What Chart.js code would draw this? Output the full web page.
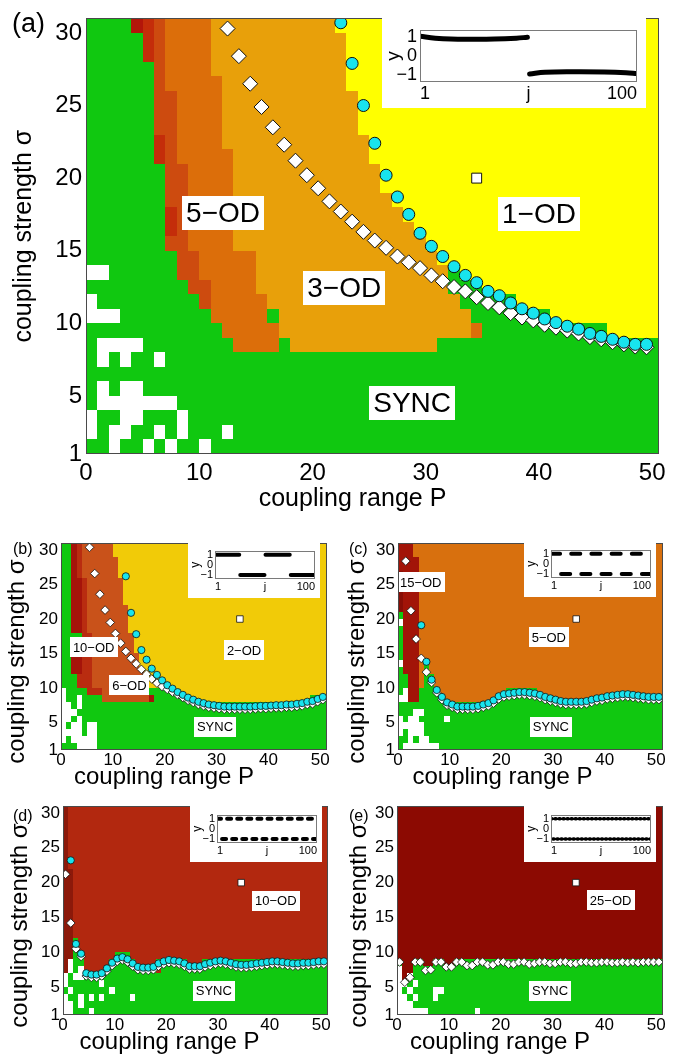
<!DOCTYPE html>
<html>
<head>
<meta charset="utf-8">
<title>Oscillation death phase diagrams</title>
<script src="https://cdn.jsdelivr.net/npm/chart.js@4.4.1/dist/chart.umd.min.js"></script>
<style>
  body { margin: 0; background: #fff; }
  #page { position: relative; width: 685px; height: 1055px; overflow: hidden; font-family: "Liberation Sans", Arial, sans-serif; }
  canvas { position: absolute; }
  canvas.inset { background: #fff; }
  .tag { position: absolute; line-height: 1; color: #000; }
</style>
</head>
<body>
<div id="page">
  <canvas id="chartA" width="685" height="522" style="left:0px;top:0px"></canvas>
  <canvas id="chartB" width="340" height="260" style="left:0px;top:530px"></canvas>
  <canvas id="chartC" width="345" height="260" style="left:340px;top:530px"></canvas>
  <canvas id="chartD" width="340" height="265" style="left:0px;top:790px"></canvas>
  <canvas id="chartE" width="345" height="265" style="left:340px;top:790px"></canvas>

  <canvas id="insetA" class="inset" width="264" height="92" style="left:382px;top:16px"></canvas>
  <canvas id="insetB" class="inset" width="132" height="56" style="left:188px;top:542px"></canvas>
  <canvas id="insetC" class="inset" width="132" height="56" style="left:524px;top:541px"></canvas>
  <canvas id="insetD" class="inset" width="132" height="56" style="left:190px;top:806px"></canvas>
  <canvas id="insetE" class="inset" width="132" height="56" style="left:524px;top:806px"></canvas>

  <div class="tag" style="left:12px;top:10px;font-size:27px">(a)</div>
  <div class="tag" style="left:13px;top:541px;font-size:16px">(b)</div>
  <div class="tag" style="left:349px;top:541px;font-size:16px">(c)</div>
  <div class="tag" style="left:13px;top:808px;font-size:16px">(d)</div>
  <div class="tag" style="left:349px;top:808px;font-size:16px">(e)</div>
</div>

<script>
// ---- axis ticks ----
const pTicks = [0, 10, 20, 30, 40, 50];
const sigmaTicks = [1, 5, 10, 15, 20, 25, 30];

// white square marker (same point in every panel)
const squareP = [34];
const squareSigma = [20];

// ---- phase grids: one run-length string per sigma row, top row (sigma 30) first, columns P = 0..50 ----
const gridA = [
  'g4 R1 r1 q1 o4 a11 y29',
  'g5 r1 q1 o4 a12 y28',
  'g5 r1 q1 o4 a12 y28',
  'g6 q1 o4 a12 y28',
  'g6 q1 o5 a11 y28',
  'g6 q2 o4 a12 y27',
  'g6 q2 o4 a12 y27',
  'g6 q2 o4 a12 y27',
  'g6 r1 q1 o4 a13 y26',
  'g6 r1 q1 o5 a12 y26',
  'g7 q2 o4 a13 y25',
  'g7 q2 o4 a13 y25',
  'g7 q2 o4 a14 y24',
  'g7 r1 q1 o4 a15 y23',
  'g7 r1 q1 o4 a16 y22',
  'g7 q2 o4 a17 y21',
  'g8 q2 o5 a16 y20',
  'w2 g6 q2 o5 a17 g1 y18',
  'g9 q2 o4 a17 g3 y16',
  'w1 g9 q1 o5 a17 g5 y13',
  'w3 g8 o5 g1 a17 g7 y10',
  'g12 o5 a17 o1 g11 y5',
  'g1 w4 g8 o4 g1 a13 g20',
  'g1 w1 g1 w1 g2 w1 g44',
  'g51',
  'g1 w1 g1 w2 g46',
  'g1 w7 g43',
  'w1 g2 w2 g3 w1 g42',
  'w1 g1 w2 g2 w1 g1 w1 g3 w1 g38',
  'g2 w1 g2 w1 g1 w1 g2 w1 g40'
];

const gridB = [
  'g2 B1 b1 s6 Y41',
  'g2 B1 b1 s6 Y41',
  'g2 B1 b1 s7 Y40',
  'g2 B1 b1 s7 Y40',
  'g2 B1 b1 s7 Y40',
  'g2 B2 b1 s7 Y39',
  'g2 B2 b1 s7 Y39',
  'g2 B2 b1 s7 Y39',
  'g2 B2 b1 s7 Y39',
  'g2 B2 b1 s8 Y38',
  'g2 B2 b1 s8 Y38',
  'g2 B2 b1 s8 Y38',
  'g2 B2 b1 s8 Y38',
  'g4 b2 s8 Y37',
  'g4 b2 s8 Y37',
  'g2 B2 b2 s8 Y37',
  'g2 B2 b2 s9 Y36',
  'g2 B2 b2 s9 Y36',
  'g2 B2 b2 s10 Y35',
  'g3 b3 s10 Y35',
  'g3 b3 s11 Y34',
  'w1 g4 b3 s9 g5 Y29',
  'w1 g2 w1 g4 s9 B1 g7 Y23 g3',
  'w2 g1 w1 g47',
  'w3 g48',
  'w2 g1 w1 g47',
  'w1 g1 w2 g1 w2 g44',
  'w4 g1 w2 g44',
  'w1 g1 w5 g44',
  'g3 w4 g44'
];

const gridC = [
  'M3 O48',
  'M3 O48',
  'M4 O47',
  'M4 O47',
  'D1 M3 O47',
  'D1 M3 O47',
  'D1 M3 O47',
  'D1 M3 O47',
  'D1 M3 O47',
  'D1 M3 O47',
  'g1 M3 O47',
  'w1 M3 O47',
  'g1 M3 O47',
  'g1 M3 O47',
  'g1 M3 O47',
  'g1 M3 O47',
  'g1 M3 O47',
  'w1 M3 O1 g1 O45',
  'g1 M3 O1 g1 O45',
  'g2 M2 O1 g2 O44',
  'g2 M2 O1 g2 O44',
  'g1 w1 M2 g4 O13 g6 O24',
  'w2 M2 g5 O10 g10 O9 g13',
  'g51',
  'g3 w2 g46',
  'w1 g1 w2 g5 w1 g41',
  'w5 g46',
  'w1 g1 w3 g46',
  'g2 w1 g1 w2 g45',
  'g1 w7 g43'
];

const gridD = [
  'K1 E50',
  'K1 E50',
  'K1 E50',
  'K1 E50',
  'K1 E50',
  'K1 E50',
  'K1 E50',
  'K1 E50',
  'K1 E50',
  'K2 E49',
  'K2 E49',
  'K2 E49',
  'K2 E49',
  'K2 E49',
  'K2 E49',
  'K2 E49',
  'K2 E49',
  'K2 E49',
  'K2 E49',
  'K2 g1 E48',
  'K2 g1 E48',
  'K2 g2 E6 g3 E38',
  'K1 w1 g2 E5 g5 E4 g6 E3 g24',
  'K1 w1 g1 w1 E4 g10 E1 g32',
  'w1 g1 w2 g47',
  'w1 g6 w1 g43',
  'g1 w1 g7 w1 g41',
  'w1 g2 w1 g1 w1 g1 w1 g5 w1 g37',
  'w2 g1 w1 g47',
  'w2 g3 w1 g45'
];

const gridE = [
  'X51', 'X51', 'X51', 'X51', 'X51', 'X51', 'X51', 'X51', 'X51', 'X51', 'X51',
  'X51', 'X51', 'X51', 'X51', 'X51', 'X51', 'X51', 'X51', 'X51', 'X51', 'X51',
  'g1 X2 g2 X2 g2 X2 g40',
  'w1 X2 g48',
  'w1 X1 w1 g48',
  'w2 g1 w1 g47',
  'w1 g1 w1 g4 w2 g42',
  'w2 g1 w1 g3 w1 g43',
  'w3 g48',
  'w6 g9 w1 g35'
];

// ---- markers: first column P, then sigma for each following column ----
const circlesA_start = 22;
const circlesA = [30.7, 27.9, 25.0, 22.4, 20.2, 18.7, 17.5, 16.2, 15.3, 14.6, 13.9, 13.3, 12.8, 12.2,
  11.9, 11.4, 11.0, 10.7, 10.3, 10.05, 9.8, 9.6, 9.3, 9.1, 8.9, 8.7, 8.55, 8.55];
const diamondsA_start = 12;
const diamondsA = [30.3, 28.4, 26.5, 24.9, 23.5, 22.3, 21.2, 20.2, 19.3, 18.4, 17.7, 17.0, 16.3, 15.7,
  15.2, 14.6, 14.2, 13.8, 13.3, 12.9, 12.5, 12.2, 11.8, 11.4, 11.1, 10.7, 10.4, 10.2, 9.9, 9.7, 9.5,
  9.3, 9.05, 8.9, 8.7, 8.55, 8.4, 8.35];

const circlesB_start = 12;
const circlesB = [26.2, 20.9, 17.8, 15.5, 14.1, 12.8, 11.9, 11.1, 10.4, 9.9, 9.4, 9.0, 8.6, 8.3, 8.0,
  7.8, 7.6, 7.5, 7.4, 7.3, 7.3, 7.3, 7.3, 7.3, 7.3, 7.35, 7.4, 7.4, 7.45, 7.5, 7.5, 7.6, 7.6, 7.7,
  7.8, 8.0, 8.1, 8.4, 8.7];
const diamondsB_start = 5;
const diamondsB = [30.4, 26.6, 23.6, 21.3, 19.5, 17.9, 16.5, 15.3, 14.3, 13.5, 12.7, 12.0, 11.3, 10.7,
  10.2, 9.8, 9.4, 9.0, 8.6, 8.2, 7.9, 7.6, 7.4, 7.2, 7.1, 7.0, 6.9, 6.9, 6.9, 6.9, 6.9, 6.9, 6.95,
  7.0, 7.0, 7.05, 7.1, 7.1, 7.2, 7.2, 7.3, 7.4, 7.6, 7.7, 8.0, 8.3];

const circlesC_start = 4;
const circlesC = [19.1, 13.8, 11.2, 9.7, 8.7, 7.9, 7.6, 7.3, 7.3, 7.3, 7.3, 7.4, 7.6, 7.8, 8.2, 8.8,
  9.1, 9.2, 9.3, 9.4, 9.4, 9.3, 9.2, 9.0, 8.7, 8.5, 8.3, 8.1, 8.0, 8.0, 8.0, 8.0, 8.1, 8.3, 8.5, 8.6,
  8.8, 8.9, 9.0, 9.1, 9.1, 9.0, 8.9, 8.8, 8.7, 8.7, 8.7];
const diamondsC_start = 1;
const diamondsC = [28.4, 21.2, 17.1, 14.3, 12.3, 10.8, 9.3, 8.3, 7.5, 7.2, 6.9, 6.9, 6.9, 6.9, 7.0,
  7.2, 7.4, 7.8, 8.4, 8.7, 8.8, 8.9, 9.0, 9.0, 8.9, 8.8, 8.6, 8.3, 8.1, 7.9, 7.7, 7.6, 7.6, 7.6, 7.6,
  7.7, 7.9, 8.1, 8.2, 8.4, 8.5, 8.6, 8.7, 8.7, 8.6, 8.5, 8.4, 8.3, 8.3, 8.3];

const circlesD_start = 1;
const circlesD = [23.2, 11.2, 9.8, 7.0, 6.8, 6.8, 7.0, 7.7, 8.5, 9.1, 9.3, 9.0, 8.4, 7.9, 7.8, 7.8,
  7.9, 8.4, 8.7, 8.9, 8.8, 8.7, 8.4, 8.0, 8.0, 8.0, 8.3, 8.5, 8.7, 8.8, 8.7, 8.5, 8.3, 8.2, 8.2, 8.3,
  8.4, 8.5, 8.6, 8.7, 8.7, 8.6, 8.5, 8.4, 8.4, 8.5, 8.5, 8.6, 8.7, 8.7];
const diamondsD_start = 0;
const diamondsD = [21.2, 14.2, 10.5, 9.4, 6.6, 6.4, 6.4, 6.6, 7.3, 8.1, 8.7, 8.9, 8.6, 8.0, 7.5, 7.4,
  7.4, 7.5, 8.0, 8.3, 8.5, 8.4, 8.3, 8.0, 7.6, 7.6, 7.6, 7.9, 8.1, 8.3, 8.4, 8.3, 8.1, 7.9, 7.8, 7.8,
  7.9, 8.0, 8.1, 8.2, 8.3, 8.3, 8.2, 8.1, 8.0, 8.0, 8.1, 8.1, 8.2, 8.3, 8.3];

const diamondsE_start = 0;
const diamondsE = [8.6, 5.7, 6.4, 8.6, 8.6, 7.4, 7.5, 8.6, 8.6, 7.9, 7.9, 8.6, 8.6, 8.1, 8.1, 8.6,
  8.6, 8.2, 8.2, 8.6, 8.6, 8.3, 8.3, 8.6, 8.6, 8.3, 8.4, 8.6, 8.6, 8.4, 8.4, 8.6, 8.6, 8.4, 8.4, 8.6,
  8.6, 8.5, 8.5, 8.6, 8.6, 8.5, 8.5, 8.6, 8.5, 8.6, 8.5, 8.6, 8.6, 8.6, 8.6];

// ---- region labels ----
const labelsA = ['5\u2212OD', '3\u2212OD', '1\u2212OD', 'SYNC'];
const labelsA_P = [12.1, 22.8, 40.0, 28.8];
const labelsA_S = [17.6, 12.4, 17.5, 4.5];
const labelsB = ['10\u2212OD', '6\u2212OD', '2\u2212OD', 'SYNC'];
const labelsB_P = [6.3, 13.2, 35.3, 29.7];
const labelsB_S = [15.9, 10.4, 15.5, 4.4];
const labelsC = ['15\u2212OD', '5\u2212OD', 'SYNC'];
const labelsC_P = [4.4, 29.2, 29.6];
const labelsC_S = [25.3, 17.4, 4.4];
const labelsD = ['10\u2212OD', 'SYNC'];
const labelsD_P = [41.2, 29.2];
const labelsD_S = [17.4, 4.5];
const labelsE = ['25\u2212OD', 'SYNC'];
const labelsE_P = [41.2, 29.5];
const labelsE_S = [17.5, 4.5];

// ---- insets: y_j against j ----
const insetJTicks = [1, 50.5, 100];
const insetJLabels = ['1', 'j', '100'];
const insetYTicks = [-1, 0, 1];
const insetYLabels = ['\u22121', '0', '1'];
const insetA_upperJ = [1, 8, 15, 25, 35, 45, 50];
const insetA_upperY = [1.05, 0.95, 0.9, 0.89, 0.9, 0.95, 1.0];
const insetA_lowerJ = [51, 58, 70, 85, 95, 100];
const insetA_lowerY = [-0.97, -0.88, -0.85, -0.86, -0.9, -0.95];
// cluster value of each consecutive equal group of oscillators
const insetB = [1, -1, 1, -1];
const insetC = [1, -1, 1, -1, 1, -1, 1, -1, 1, -1];
const insetD = [1, -1, 1, -1, 1, -1, 1, -1, 1, -1, 1, -1, 1, -1, 1, -1, 1, -1, 1, -1];
const insetE = [1, -1, 1, -1, 1, -1, 1, -1, 1, -1, 1, -1, 1, -1, 1, -1, 1, -1, 1, -1, 1, -1, 1, -1, 1,
  -1, 1, -1, 1, -1, 1, -1, 1, -1, 1, -1, 1, -1, 1, -1, 1, -1, 1, -1, 1, -1, 1, -1, 1, -1];

// ---- colours ----
const cellColors = {
  g: '#10c810', w: '#ffffff',
  R: '#b3160a', r: '#c42d0a', q: '#cd4b0f', o: '#dc6e0a', a: '#e8a00a', y: '#ffff00',
  B: '#a5140a', b: '#b92c10', s: '#c9521a', Y: '#f1cb08',
  D: '#880e06', M: '#a21408', O: '#d8700e',
  K: '#8c190a', E: '#b2280f',
  X: '#8c0a02'
};
const circleFill = '#18e4ee';
const fontFamily = '"Liberation Sans", Arial, Helvetica, sans-serif';

Chart.defaults.font.family = fontFamily;
Chart.defaults.color = '#000';

function expandRow(spec) {
  const cells = [];
  spec.trim().split(/\s+/).forEach(tok => {
    const n = parseInt(tok.slice(1), 10);
    for (let k = 0; k < n; k++) cells.push(tok[0]);
  });
  return cells;
}

// markers sit in the middle of their P column
function toPoints(start, sigmas) {
  return sigmas.map((s, i) => ({ x: start + i + 0.5, y: s }));
}

function groupSegments(groups) {
  const size = 100 / groups.length;
  const pts = [];
  groups.forEach((v, g) => {
    const j0 = g * size + 1, j1 = (g + 1) * size;
    pts.push({ x: j0, y: v }, { x: j1, y: v }, { x: j1, y: null });
  });
  return pts;
}

// paint the phase cells under the markers
const heatmapPlugin = {
  id: 'heatmap',
  beforeDatasetsDraw(chart, args, opts) {
    const { ctx, chartArea: area, scales: { x, y } } = chart;
    const rows = opts.rows;
    ctx.save();
    ctx.beginPath();
    ctx.rect(area.left, area.top, area.right - area.left, area.bottom - area.top);
    ctx.clip();
    rows.forEach((spec, i) => {
      const sigma = rows.length - i;
      const y0 = Math.round(y.getPixelForValue(sigma + 1));
      const y1 = Math.round(y.getPixelForValue(sigma));
      const cells = expandRow(spec);
      cells.forEach((code, p) => {
        const x0 = Math.round(x.getPixelForValue(p));
        const x1 = p === cells.length - 1 ? Math.ceil(area.right) : Math.round(x.getPixelForValue(p + 1));
        ctx.fillStyle = cellColors[code];
        ctx.fillRect(x0, y0, x1 - x0, y1 - y0);
      });
    });
    ctx.restore();
  }
};

// white boxes with the state names
const labelPlugin = {
  id: 'regionLabels',
  afterDatasetsDraw(chart, args, opts) {
    const { ctx, scales: { x, y } } = chart;
    ctx.save();
    ctx.font = opts.size + 'px ' + fontFamily;
    ctx.textAlign = 'center';
    ctx.textBaseline = 'middle';
    opts.names.forEach((t, i) => {
      const cx = x.getPixelForValue(opts.p[i]);
      const cy = y.getPixelForValue(opts.s[i]);
      const w = ctx.measureText(t).width + 2 * opts.padX;
      const h = opts.size + 2 * opts.padY;
      ctx.fillStyle = '#fff';
      ctx.fillRect(Math.round(cx - w / 2), Math.round(cy - h / 2), Math.round(w), Math.round(h));
      ctx.fillStyle = '#000';
      ctx.fillText(t, cx, cy + 1);
    });
    ctx.restore();
  }
};

const framePlugin = {
  id: 'frame',
  afterDraw(chart, args, opts) {
    const { ctx, chartArea: a } = chart;
    ctx.save();
    ctx.strokeStyle = opts.color || '#444';
    ctx.lineWidth = 1;
    ctx.strokeRect(Math.round(a.left) + 0.5, Math.round(a.top) + 0.5,
      Math.round(a.right - a.left) - 1, Math.round(a.bottom - a.top) - 1);
    ctx.restore();
  }
};

// axis titles, placed like the original (not exactly centred on the axes)
const axisTitlePlugin = {
  id: 'axisTitles',
  afterDraw(chart, args, o) {
    const { ctx, chartArea: a } = chart;
    ctx.save();
    ctx.fillStyle = '#000';
    ctx.textAlign = 'center';
    ctx.textBaseline = 'alphabetic';
    ctx.font = o.xSize + 'px ' + fontFamily;
    ctx.fillText('coupling range P', (a.left + a.right) / 2 + o.xShift, o.xBaseline);
    ctx.translate(o.yCenterX, (a.top + a.bottom) / 2 + o.yShift);
    ctx.rotate(-Math.PI / 2);
    ctx.textBaseline = 'middle';
    ctx.font = o.ySize + 'px ' + fontFamily;
    ctx.fillText('coupling strength \u03c3', 0, 0);
    ctx.restore();
  }
};

function makePanel(id, d, f) {
  const datasets = [];
  if (d.circles) {
    datasets.push({
      data: toPoints(d.circles[0], d.circles[1]), pointStyle: 'circle', pointRadius: f.circleR,
      backgroundColor: circleFill, borderColor: '#111', borderWidth: f.edge
    });
  }
  datasets.push({
    data: toPoints(d.diamonds[0], d.diamonds[1]), pointStyle: 'rectRot', pointRadius: f.diamondR,
    backgroundColor: '#fff', borderColor: '#111', borderWidth: f.edge
  });
  datasets.push({
    data: toPoints(squareP[0], squareSigma), pointStyle: 'rect', pointRadius: f.squareR,
    backgroundColor: '#fff', borderColor: '#111', borderWidth: f.edge
  });

  return new Chart(document.getElementById(id), {
    type: 'scatter',
    data: { datasets },
    options: {
      responsive: false,
      animation: false,
      events: [],
      devicePixelRatio: 1,
      layout: { padding: { top: f.top, right: f.right, left: 0, bottom: 0 } },
      plugins: {
        legend: { display: false },
        tooltip: { enabled: false },
        heatmap: { rows: d.rows },
        regionLabels: { names: d.labels[0], p: d.labels[1], s: d.labels[2], size: f.label, padX: f.padX, padY: f.padY },
        frame: { color: '#4a4a4a' },
        axisTitles: { xSize: f.xTitle, ySize: f.yTitle, xShift: f.xShift, xBaseline: f.xBaseline,
                      yCenterX: f.yCenterX, yShift: f.yShift }
      },
      scales: {
        x: {
          type: 'linear', min: 0, max: f.xMax,
          grid: { display: false, drawTicks: false },
          border: { display: false },
          ticks: { font: { size: f.tick }, padding: f.xTickPad, maxRotation: 0, autoSkip: false },
          afterBuildTicks: s => { s.ticks = pTicks.map(v => ({ value: v })); },
          afterFit: s => { s.height = f.axisH; },
          title: { display: false }
        },
        y: {
          type: 'linear', min: 1, max: 31,
          grid: { display: false, drawTicks: false },
          border: { display: false },
          ticks: { font: { size: f.tick }, padding: f.yTickPad, autoSkip: false },
          afterBuildTicks: s => { s.ticks = sigmaTicks.map(v => ({ value: v })); },
          afterFit: s => { s.width = f.left; },
          title: { display: false }
        }
      }
    },
    plugins: [heatmapPlugin, labelPlugin, framePlugin, axisTitlePlugin]
  });
}

function makeInset(id, lines, f) {
  return new Chart(document.getElementById(id), {
    type: 'scatter',
    data: {
      datasets: lines.map(pts => ({
        data: pts, showLine: true, pointRadius: 0, borderColor: '#000', borderWidth: f.lw,
        borderCapStyle: 'round', tension: f.tension, spanGaps: false
      }))
    },
    options: {
      responsive: false,
      animation: false,
      events: [],
      devicePixelRatio: 1,
      layout: { padding: { top: f.top, right: f.right, left: 0, bottom: 0 } },
      plugins: { legend: { display: false }, tooltip: { enabled: false }, frame: { color: '#7a7a7a' } },
      scales: {
        x: {
          type: 'linear', min: 1, max: 100,
          grid: { display: false, drawTicks: false },
          border: { display: false },
          ticks: { font: { size: f.tick }, padding: f.xPad, maxRotation: 0, autoSkip: false, align: 'inner',
                   callback: (v, i) => insetJLabels[i] },
          afterBuildTicks: s => { s.ticks = insetJTicks.map(v => ({ value: v })); },
          afterFit: s => { s.height = f.axisH; }
        },
        y: {
          type: 'linear', min: -1.4, max: 1.4,
          grid: { display: false, drawTicks: false },
          border: { display: false },
          ticks: { font: { size: f.tick }, padding: f.yPad, autoSkip: false, callback: (v, i) => insetYLabels[i] },
          afterBuildTicks: s => { s.ticks = insetYTicks.map(v => ({ value: v })); },
          afterFit: s => { s.width = f.left; },
          title: { display: true, text: 'y', font: { size: f.tick + 1 }, padding: { top: 0, bottom: 0 } }
        }
      }
    },
    plugins: [framePlugin]
  });
}

// ---- panel (a) ----
makePanel('chartA',
  { rows: gridA, circles: [circlesA_start, circlesA], diamonds: [diamondsA_start, diamondsA],
    labels: [labelsA, labelsA_P, labelsA_S] },
  { left: 86, top: 5, right: 26, axisH: 68, xMax: 50.6, tick: 24, label: 28, padX: 4, padY: 3,
    xTickPad: 5, yTickPad: 4, xTitle: 25, yTitle: 25, xShift: -20, xBaseline: 506, yCenterX: 24, yShift: 0,
    circleR: 6, diamondR: 7.5, squareR: 7, edge: 1 });

// ---- small panels ----
const small = { tick: 17, label: 13, padX: 3, padY: 3.5, xTickPad: 0, yTickPad: 3, xTitle: 24, yTitle: 24,
  circleR: 3.6, diamondR: 4.3, squareR: 4.6, edge: 0.8, axisH: 40, xMax: 51.3 };

makePanel('chartB',
  { rows: gridB, circles: [circlesB_start, circlesB], diamonds: [diamondsB_start, diamondsB],
    labels: [labelsB, labelsB_P, labelsB_S] },
  Object.assign({}, small, { left: 61, top: 10, right: 13, xShift: -30, xBaseline: 254, yCenterX: 17, yShift: 15 }));

makePanel('chartC',
  { rows: gridC, circles: [circlesC_start, circlesC], diamonds: [diamondsC_start, diamondsC],
    labels: [labelsC, labelsC_P, labelsC_S] },
  Object.assign({}, small, { left: 58, top: 10, right: 22, xShift: -28, xBaseline: 254, yCenterX: 17, yShift: 15 }));

makePanel('chartD',
  { rows: gridD, circles: [circlesD_start, circlesD], diamonds: [diamondsD_start, diamondsD],
    labels: [labelsD, labelsD_P, labelsD_S] },
  Object.assign({}, small, { left: 63, top: 16, right: 12, xShift: -26, xBaseline: 259, yCenterX: 20, yShift: 15 }));

makePanel('chartE',
  { rows: gridE, diamonds: [diamondsE_start, diamondsE],
    labels: [labelsE, labelsE_P, labelsE_S] },
  Object.assign({}, small, { left: 57, top: 16, right: 22, xShift: -30, xBaseline: 259, yCenterX: 19, yShift: 15 }));

// ---- insets ----
const insetUpperA = insetA_upperJ.map((j, i) => ({ x: j, y: insetA_upperY[i] }));
const insetLowerA = insetA_lowerJ.map((j, i) => ({ x: j, y: insetA_lowerY[i] }));
makeInset('insetA', [insetUpperA, insetLowerA],
  { left: 38, top: 6, right: 9, axisH: 26, tick: 18, xPad: 1, yPad: 3, lw: 5, tension: 0.4 });

const smallInset = { left: 27, top: 3, right: 5, axisH: 19, tick: 11, xPad: 1, yPad: 2, lw: 4, tension: 0 };
makeInset('insetB', [groupSegments(insetB)], smallInset);
makeInset('insetC', [groupSegments(insetC)], smallInset);
makeInset('insetD', [groupSegments(insetD)], smallInset);
makeInset('insetE', [groupSegments(insetE)], Object.assign({}, smallInset, { lw: 3.5 }));
</script>
</body>
</html>
